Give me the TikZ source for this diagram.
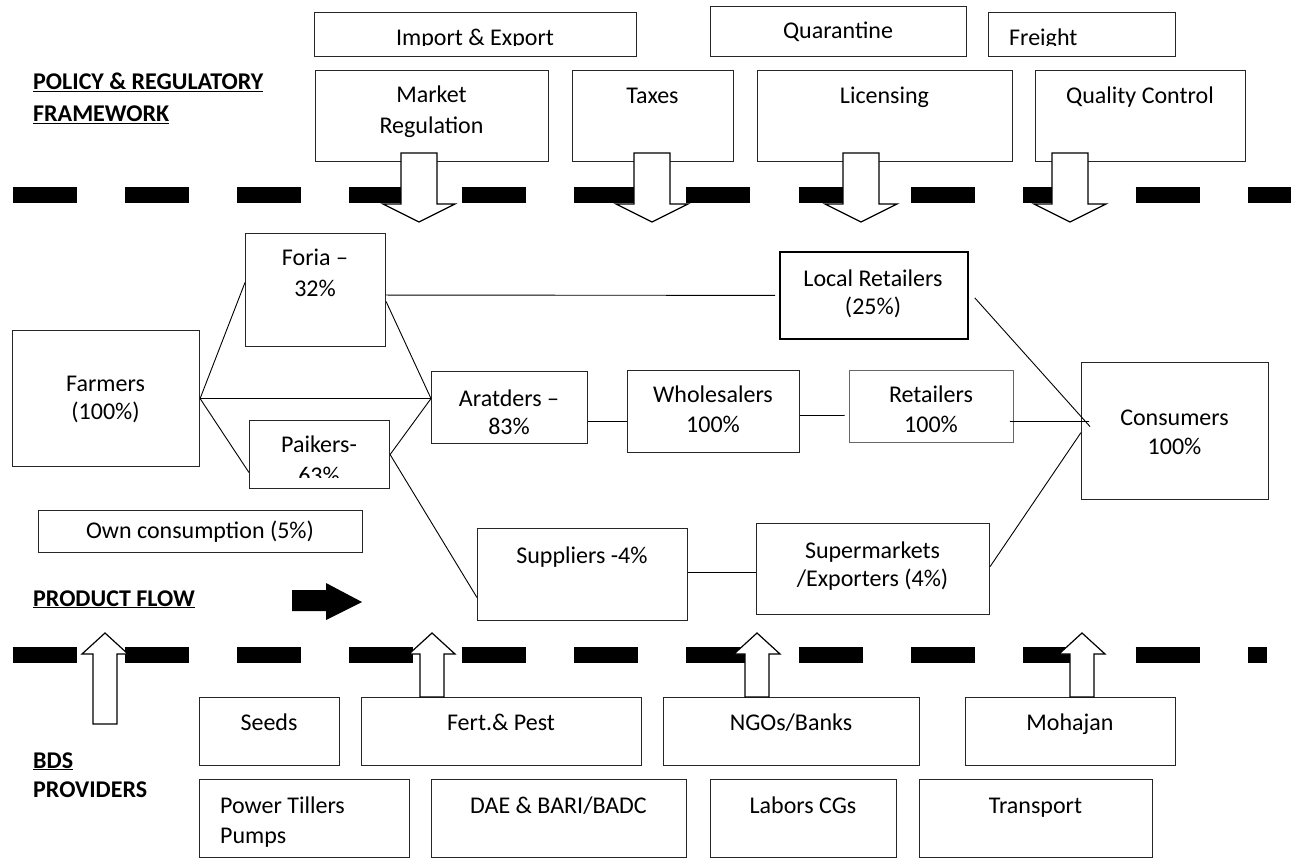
\documentclass[tikz,border=0pt]{standalone}
\usepackage{fontspec}
\setmainfont{Carlito}
\usetikzlibrary{calc}

\newcommand\fsz{\fontsize{24}{29}\selectfont}
% hollow block arrows pointing down (from the policy row) and up (from the BDS row)
\newcommand\DnBlock[1]{%
  \draw[hollow] (#1-18,153) -- (#1+18,153) -- (#1+18,204) -- (#1+36,204) -- (#1,222)
    -- (#1-36,204) -- (#1-18,204) -- cycle;}
\newcommand\UpBlock[2]{%
  \draw[hollow] (#1-12,#2) -- (#1-12,654) -- (#1-23,654) -- (#1,633)
    -- (#1+23,654) -- (#1+12,654) -- (#1+12,#2) -- cycle;}

\tikzset{
  box/.style={draw=black!85, line width=1.1pt, inner sep=0pt, anchor=north west},
  lbl/.style={anchor=base, inner sep=0pt, font=\fsz},
  lblw/.style={anchor=base west, inner sep=0pt, font=\fsz},
  head/.style={anchor=base west, inner sep=0pt, font=\fsz\bfseries},
  conn/.style={draw=black, line width=0.9pt},
  hollow/.style={draw=black, fill=white, line width=1.2pt, line join=miter},
  band/.style={line width=16pt, dash pattern=on 64pt off 48.3pt, black},
}

\begin{document}
\begin{tikzpicture}[x=1pt, y=-1pt]
\useasboundingbox (0,0) rectangle (1299,858);

% dashed separators between the three layers
\draw[band] (12.5,195) -- (1291,195);
\draw[band] (12.5,655) -- (1267,655);

% ---- policy & regulatory framework ----
\node[box, minimum width=322, minimum height=44] (impexp) at (314,12) {};
\node[box, minimum width=256, minimum height=50] (quar) at (710,6) {};
\node[box, minimum width=187, minimum height=44] (freight) at (988,12) {};
\node[box, minimum width=233, minimum height=91] (market) at (315,70) {};
\node[box, minimum width=161, minimum height=91] (taxes) at (572,70) {};
\node[box, minimum width=255, minimum height=91] (lic) at (757,70) {};
\node[box, minimum width=210, minimum height=91] (qc) at (1035,70) {};

\begin{scope}
  \clip (314,12) rectangle (1175,45.5);
  \node[lbl] (impexp-t) at (475,46) {Import \& Export};
  \node[lblw] (freight-t) at (1009,46) {Freight};
\end{scope}
\node[lbl] (quar-t) at (838,39) {Quarantine};
\node[lbl] (market-t1) at (431.5,103) {Market};
\node[lbl] (market-t2) at (431.5,134) {Regulation};
\node[lbl] (taxes-t) at (652.5,104) {Taxes};
\node[lbl] (lic-t) at (884.5,104) {Licensing};
\node[lbl] (qc-t) at (1140,104) {Quality Control};

\node[head] (pol1) at (33,90) {\underline{POLICY \& REGULATORY}};
\node[head] (pol2) at (33,122) {\underline{FRAMEWORK}};

% ---- product flow ----
\node[box, minimum width=187, minimum height=136] (farmers) at (12,330) {};
\node[box, minimum width=140, minimum height=113] (foria) at (245,233) {};
\node[box, minimum width=188, minimum height=87, line width=1.8pt, draw=black] (lr) at (779,251) {};
\node[box, minimum width=156, minimum height=72] (aratders) at (431,371) {};
\node[box, minimum width=172, minimum height=82] (wholesalers) at (627,370) {};
\node[box, minimum width=164, minimum height=72, draw=black!60, line width=0.9pt] (retailers) at (849,370) {};
\node[box, minimum width=187, minimum height=137] (consumers) at (1081,362) {};
\node[box, minimum width=140, minimum height=68] (paikers) at (249,420) {};
\node[box, minimum width=324, minimum height=42] (own) at (38,510) {};
\node[box, minimum width=210, minimum height=92] (suppliers) at (477,528) {};
\node[box, minimum width=233, minimum height=91] (super) at (756,523) {};

\node[lbl] (farmers-t1) at (105.5,392) {Farmers};
\node[lbl] (farmers-t2) at (105.5,420) {(100\%)};
\node[lbl] (foria-t1) at (315,266) {Foria –};
\node[lbl] (foria-t2) at (315,297) {32\%};
\node[lbl] (lr-t1) at (873,287) {Local Retailers};
\node[lbl] (lr-t2) at (873,315) {(25\%)};
\node[lbl] (aratders-t1) at (509,407) {Aratders –};
\node[lbl] (aratders-t2) at (509,435) {83\%};
\node[lbl] (wholesalers-t1) at (713,403) {Wholesalers};
\node[lbl] (wholesalers-t2) at (713,433) {100\%};
\node[lbl] (retailers-t1) at (931,403) {Retailers};
\node[lbl] (retailers-t2) at (931,433) {100\%};
\node[lbl] (consumers-t1) at (1174.5,426) {Consumers};
\node[lbl] (consumers-t2) at (1174.5,455) {100\%};
\node[lbl] (paikers-t1) at (319,453) {Paikers-};
\begin{scope}
  \clip (249,420) rectangle (389,477);
  \node[lbl] (paikers-t2) at (319,483) {63\%};
\end{scope}
\node[lbl] (own-t) at (200,538) {Own consumption (5\%)};
\node[lbl] (suppliers-t) at (582,563) {Suppliers -4\%};
\node[lbl] (super-t1) at (872.5,558) {Supermarkets};
\node[lbl] (super-t2) at (872.5,586) {/Exporters (4\%)};

\node[head] (flow) at (33,606) {\underline{PRODUCT FLOW}};
\fill[black] (292,590) -- (326,590) -- (326,583) -- (362,602) -- (326,620) -- (326,611) -- (292,611) -- cycle;

% links along the chain
\draw[conn] (farmers.east) -- ([yshift=7.5pt]foria.west);
\draw[conn] (farmers.east) -- ([yshift=9pt]aratders.west);
\draw[conn] (farmers.east) -- ([yshift=-18pt]paikers.west);
\draw[conn] ([yshift=-11.5pt]foria.east) -- ([yshift=9pt]aratders.west);
\draw[conn] (paikers.east) -- ([yshift=9pt]aratders.west);
\draw[conn] (paikers.east) -- ([yshift=-23pt]suppliers.west);
\draw[conn] ([yshift=-5pt]foria.east) -- ([xshift=-4pt]lr.west);
\draw[conn] ([yshift=-14pt]aratders.east) -- ([yshift=-10pt]wholesalers.west);
\draw[conn] ([yshift=-4pt]wholesalers.east) -- ([xshift=-4.5pt,yshift=-9pt]retailers.west);
\draw[conn] ([xshift=-4pt,yshift=-15pt]retailers.east) -- ([xshift=8pt,yshift=9.5pt]consumers.west);
\draw[conn] ([xshift=6pt,yshift=-2.5pt]lr.east) -- ([xshift=9pt,yshift=4.5pt]consumers.west);
\draw[conn] ([yshift=2.5pt]super.east) -- ([yshift=-1.5pt]consumers.west);
\draw[conn] ([yshift=2pt]suppliers.east) -- ([yshift=-3.5pt]super.west);

% ---- business development service providers ----
\node[box, minimum width=140, minimum height=68] (seeds) at (199,697) {};
\node[box, minimum width=280, minimum height=68] (fert) at (361,697) {};
\node[box, minimum width=256, minimum height=68] (ngo) at (663,697) {};
\node[box, minimum width=210, minimum height=68] (moh) at (965,697) {};
\node[box, minimum width=210, minimum height=78] (power) at (199,779) {};
\node[box, minimum width=255, minimum height=78] (dae) at (431,779) {};
\node[box, minimum width=186, minimum height=78] (labors) at (710,779) {};
\node[box, minimum width=233, minimum height=78] (transport) at (919,779) {};

\node[lbl] (seeds-t) at (269,730) {Seeds};
\node[lbl] (fert-t) at (501,730) {Fert.\& Pest};
\node[lbl] (ngo-t) at (791,730) {NGOs/Banks};
\node[lbl] (moh-t) at (1070,730) {Mohajan};
\node[lblw] (power-t1) at (220,813) {Power Tillers};
\node[lblw] (power-t2) at (220,843) {Pumps};
\node[lbl] (dae-t) at (558.5,813) {DAE \& BARI/BADC};
\node[lbl] (labors-t) at (803,813) {Labors CGs};
\node[lbl] (transport-t) at (1035.5,813) {Transport};

\node[head] (bds1) at (33,768) {\underline{BDS}};
\node[head] (bds2) at (33,797) {PROVIDERS};

% block arrows across the separators
\DnBlock{419}
\DnBlock{652}
\DnBlock{861}
\DnBlock{1070}
\UpBlock{105}{724}
\UpBlock{432}{697}
\UpBlock{757}{697}
\UpBlock{1082}{697}
\end{tikzpicture}
\end{document}
